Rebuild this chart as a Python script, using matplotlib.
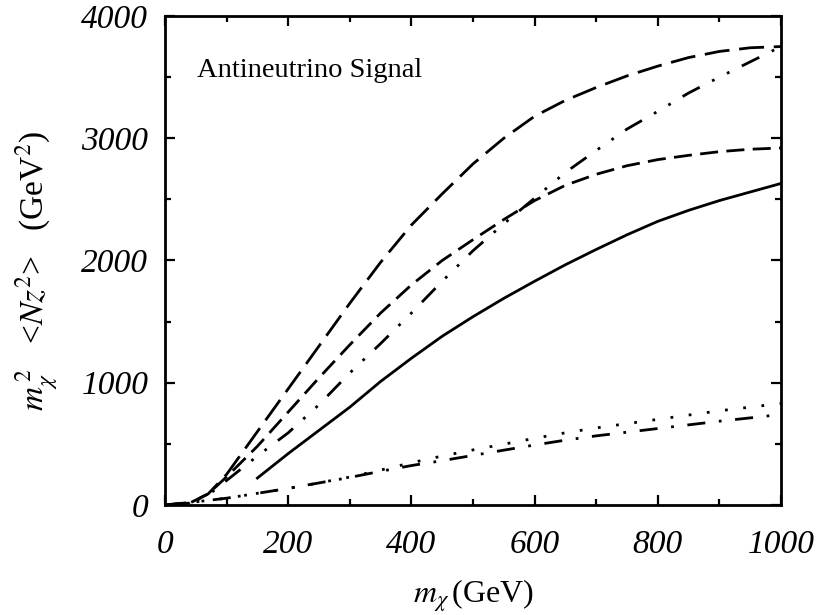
import numpy as np
import matplotlib
matplotlib.use('Agg')
import matplotlib.pyplot as plt

plt.rcParams['font.family'] = ['Liberation Serif', 'DejaVu Serif']
plt.rcParams['mathtext.fontset'] = 'stix'

# curves (m_chi in GeV, m^2 <Nz^2> in GeV^2)
x_solid = [150, 200, 250, 300, 350, 400, 450, 500, 550, 600, 650, 700, 750, 800, 850, 900, 950, 1000]
y_solid = [220, 420, 610, 800, 1010, 1200, 1380, 1540, 1690, 1830, 1965, 2090, 2210, 2320, 2410, 2490, 2560, 2630]

x_long = [0, 40, 70, 100, 150, 200, 250, 300, 350, 400, 450, 500, 550, 600, 650, 700, 750, 800, 850, 900, 950, 1000]
y_long = [0, 15, 90, 250, 600, 950, 1300, 1650, 1985, 2290, 2545, 2790, 3000, 3180, 3310, 3415, 3510, 3590, 3660, 3710, 3740, 3750]

x_dash = [0, 40, 70, 100, 150, 200, 250, 300, 350, 400, 450, 500, 550, 600, 650, 700, 750, 800, 850, 900, 950, 1000]
y_dash = [0, 15, 90, 230, 480, 760, 1040, 1310, 1570, 1800, 2000, 2170, 2335, 2490, 2615, 2705, 2775, 2825, 2860, 2890, 2910, 2920]

x_dashdot2 = [0, 40, 70, 100, 150, 200, 250, 300, 350, 400, 450, 500, 550, 600, 650, 700, 750, 800, 850, 900, 950, 1000]
y_dashdot2 = [0, 15, 80, 200, 400, 590, 820, 1080, 1320, 1570, 1830, 2080, 2300, 2510, 2720, 2900, 3075, 3220, 3370, 3500, 3625, 3750]

x_low = [0, 50, 100, 150, 200, 250, 300, 350, 400, 450, 500, 550, 600, 650, 700, 750, 800, 850, 900, 950, 1000]
y_dotted = [0, 25, 55, 95, 135, 180, 228, 285, 345, 400, 450, 497, 545, 590, 630, 665, 700, 735, 770, 800, 830]
y_dashdot = [0, 25, 55, 95, 135, 180, 225, 275, 322, 362, 405, 448, 490, 530, 565, 595, 625, 655, 685, 712, 740]

fig = plt.figure(figsize=(8.23, 6.15), dpi=100)
ax = fig.add_axes([0.2005, 0.179, 0.7485, 0.795])

lw = 2.0
ax.plot(x_solid, y_solid, color='black', lw=lw, linestyle='-')
ax.plot(x_long, y_long, color='black', lw=lw, linestyle=(0, (9, 3.5)))
ax.plot(x_dash, y_dash, color='black', lw=lw, linestyle=(0, (6.5, 3)))
ax.plot(x_dashdot2, y_dashdot2, color='black', lw=lw, linestyle=(0, (7, 5, 1, 5, 1, 5)))
ax.plot(x_low, y_dotted, color='black', lw=lw, linestyle=(0, (1, 5.6)))
ax.plot(x_low, y_dashdot, color='black', lw=lw, linestyle=(0, (6.5, 4.9, 1, 4.9)))

ax.set_xlim(0, 1000)
ax.set_ylim(0, 4000)
ax.set_xticks([0, 200, 400, 600, 800, 1000])
ax.set_xticks(np.arange(0, 1001, 100), minor=True)
ax.set_yticks([0, 1000, 2000, 3000, 4000])
ax.set_yticks(np.arange(0, 4001, 500), minor=True)

for s in ax.spines.values():
    s.set_linewidth(2)

ax.tick_params(which='both', direction='in', top=True, right=True, width=1.6)
ax.tick_params(which='major', length=7)
ax.tick_params(which='minor', length=4.5)
ax.tick_params(axis='x', which='major', pad=18)
ax.tick_params(axis='y', which='major', pad=12)
for lab in ax.get_xticklabels() + ax.get_yticklabels():
    lab.set_fontsize(24)
    lab.set_fontstyle('italic')

ax.text(0.052, 0.875, 'Antineutrino Signal', transform=ax.transAxes, fontsize=20.5)

ax.set_xlabel(r'$m_\chi\,$(GeV)', fontsize=23)
ax.xaxis.set_label_coords(0.5, -0.148)
ax.set_ylabel(r'$m_\chi^{\,2}$   <$Nz^2$>   (GeV$^2$)', fontsize=24)
ax.yaxis.set_label_coords(-0.17, 0.478)

fig.savefig('out.png', dpi=100)
